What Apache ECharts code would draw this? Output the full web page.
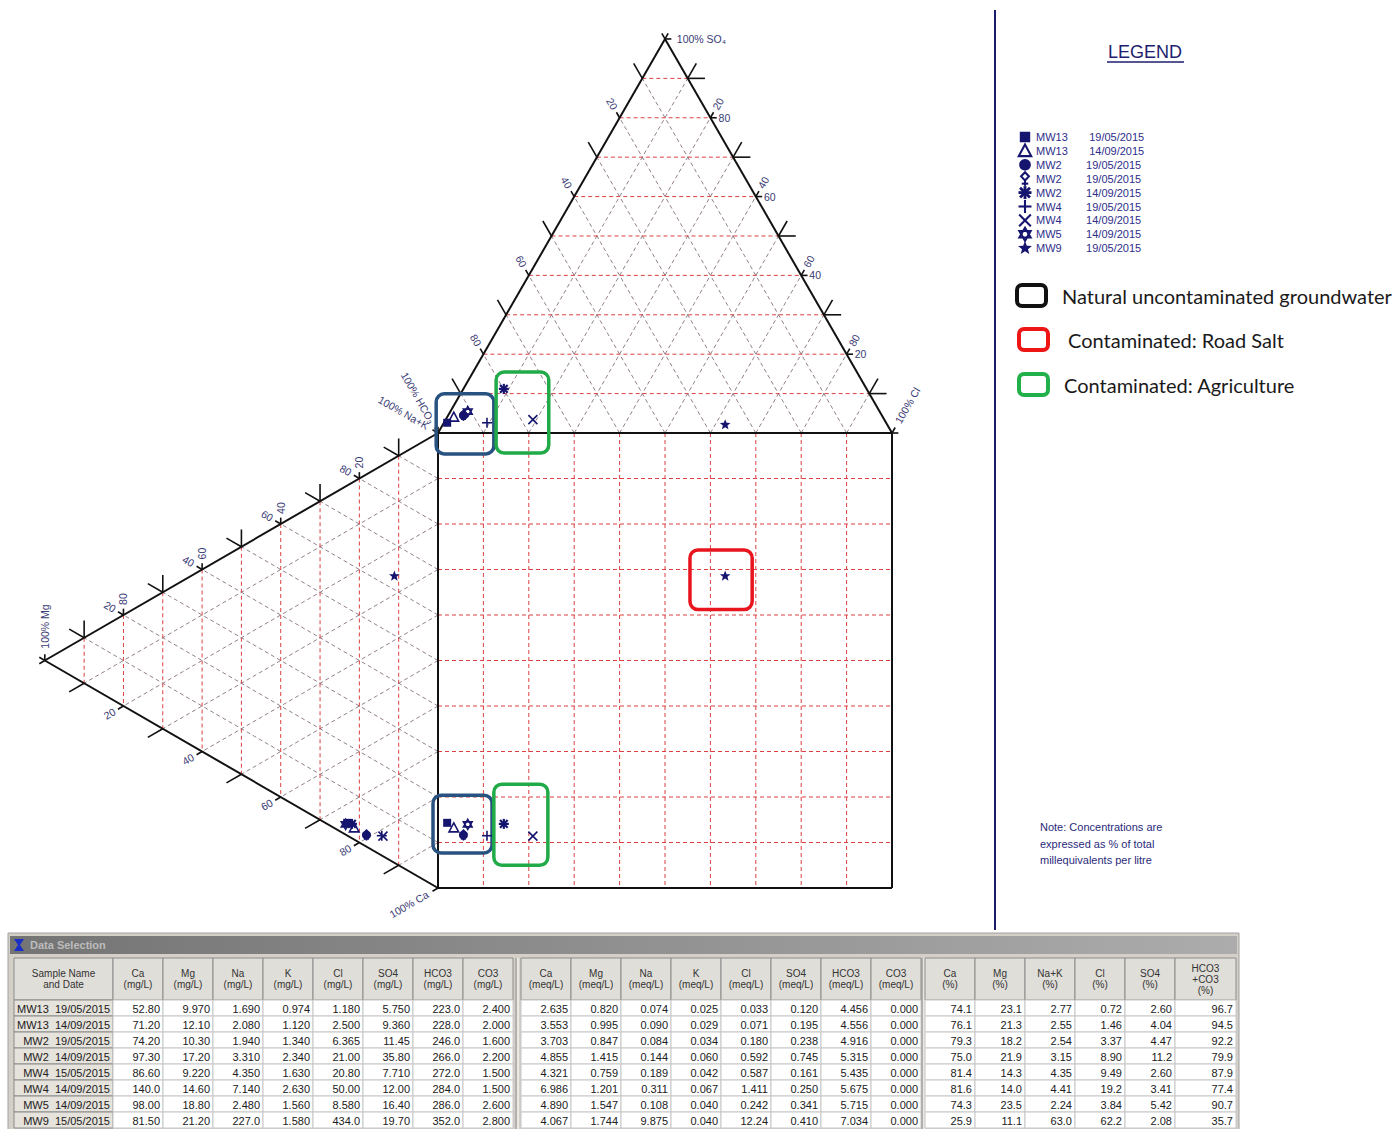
<!DOCTYPE html>
<html>
<head>
<meta charset="utf-8">
<title>Durov diagram – groundwater samples</title>
<script src="https://cdn.jsdelivr.net/npm/echarts@6/dist/echarts.min.js"></script>
<style>
  html, body { margin: 0; padding: 0; background: #ffffff; }
  #chart { width: 1399px; height: 1129px; }
</style>
</head>
<body>
<div id="chart"></div>
<script>
// ---------------- sample data (percent of total meq/L) ----------------
const sampleNames = ['MW13\u00a0\u00a019/05/2015', 'MW13\u00a0\u00a014/09/2015', 'MW2\u00a0\u00a019/05/2015', 'MW2\u00a0\u00a014/09/2015',
                     'MW4\u00a0\u00a015/05/2015', 'MW4\u00a0\u00a014/09/2015', 'MW5\u00a0\u00a014/09/2015', 'MW9\u00a0\u00a015/05/2015'];
const caPct   = [74.1, 76.1, 79.3, 75.0, 81.4, 81.6, 74.3, 25.9];
const mgPct   = [23.1, 21.3, 18.2, 21.9, 14.3, 14.0, 23.5, 11.1];
const naKPct  = [2.77, 2.55, 2.54, 3.15, 4.35, 4.41, 2.24, 63.0];
const clPct   = [0.72, 1.46, 3.37, 8.90, 9.49, 19.2, 3.84, 62.2];
const so4Pct  = [2.60, 4.04, 4.47, 11.2, 2.60, 3.41, 5.42, 2.08];
const hco3Pct = [96.7, 94.5, 92.2, 79.9, 87.9, 77.4, 90.7, 35.7];

// concentrations (mg/L)
const caMgL   = ['52.80', '71.20', '74.20', '97.30', '86.60', '140.0', '98.00', '81.50'];
const mgMgL   = ['9.970', '12.10', '10.30', '17.20', '9.220', '14.60', '18.80', '21.20'];
const naMgL   = ['1.690', '2.080', '1.940', '3.310', '4.350', '7.140', '2.480', '227.0'];
const kMgL    = ['0.974', '1.120', '1.340', '2.340', '1.630', '2.630', '1.560', '1.580'];
const clMgL   = ['1.180', '2.500', '6.365', '21.00', '20.80', '50.00', '8.580', '434.0'];
const so4MgL  = ['5.750', '9.360', '11.45', '35.80', '7.710', '12.00', '16.40', '19.70'];
const hco3MgL = ['223.0', '228.0', '246.0', '266.0', '272.0', '284.0', '286.0', '352.0'];
const co3MgL  = ['2.400', '2.000', '1.600', '2.200', '1.500', '1.500', '2.600', '2.800'];

// concentrations (meq/L)
const caMeq   = ['2.635', '3.553', '3.703', '4.855', '4.321', '6.986', '4.890', '4.067'];
const mgMeq   = ['0.820', '0.995', '0.847', '1.415', '0.759', '1.201', '1.547', '1.744'];
const naMeq   = ['0.074', '0.090', '0.084', '0.144', '0.189', '0.311', '0.108', '9.875'];
const kMeq    = ['0.025', '0.029', '0.034', '0.060', '0.042', '0.067', '0.040', '0.040'];
const clMeq   = ['0.033', '0.071', '0.180', '0.592', '0.587', '1.411', '0.242', '12.24'];
const so4Meq  = ['0.120', '0.195', '0.238', '0.745', '0.161', '0.250', '0.341', '0.410'];
const hco3Meq = ['4.456', '4.556', '4.916', '5.315', '5.435', '5.675', '5.715', '7.034'];
const co3Meq  = ['0.000', '0.000', '0.000', '0.000', '0.000', '0.000', '0.000', '0.000'];

// legend entries: well, date, table row that supplies the composition
const legendWells = ['MW13', 'MW13', 'MW2', 'MW2', 'MW2', 'MW4', 'MW4', 'MW5', 'MW9'];
const legendDates = ['19/05/2015', '14/09/2015', '19/05/2015', '19/05/2015', '14/09/2015',
                     '19/05/2015', '14/09/2015', '14/09/2015', '19/05/2015'];
const legendRow   = [0, 1, 2, 2, 3, 4, 5, 6, 7];

// water-type groups and the outlined areas (diagram percent units)
const groupNames = ['Natural uncontaminated groundwater', 'Contaminated: Road Salt', 'Contaminated: Agriculture'];
const groupAreas = [
  { group: 0, x: [-0.4, 12.3], y: [-4.6, 8.6] },
  { group: 0, x: [-1.1, 11.9], y: [-92.3, -79.6] },
  { group: 2, x: [12.8, 24.4], y: [-4.4, 13.4] },
  { group: 2, x: [12.3, 24.2], y: [-95.0, -77.2] },
  { group: 1, x: [55.5, 69.2], y: [-38.8, -25.7] }
];
const gridSteps = [10, 20, 30, 40, 50, 60, 70, 80, 90];
const labelSteps = [20, 40, 60, 80];

// ---------------- styles ----------------
const NAVY = '#15156f';
const LABEL = '#3a3a74';
const RED_GRID = '#dc4040';
const GREY_GRID = '#93808a';
const areaColours = ['#28527f', '#e8141e', '#21aa48'];
const legendColours = ['#111111', '#ee1515', '#22b04b'];

// ---------------- Durov geometry ----------------
const H = Math.sqrt(3) / 2;
// anion triangle: HCO3 bottom-left, Cl bottom-right, SO4 top
const anionXY = (cl, so4) => [cl + so4 / 2, so4 * H];
// cation triangle: Na+K top, Ca bottom, Mg left
const cationXY = (ca, mg) => [-mg * H, -(ca + mg / 2)];

function anionOf(i) {
  const t = clPct[i] + so4Pct[i] + hco3Pct[i];
  return anionXY(clPct[i] / t * 100, so4Pct[i] / t * 100);
}
function cationOf(i) {
  const t = caPct[i] + mgPct[i] + naKPct[i];
  return cationXY(caPct[i] / t * 100, mgPct[i] / t * 100);
}

// frame
const frameSegs = [];
function poly(pts) {
  for (let i = 0; i < pts.length; i++) {
    const a = pts[i], b = pts[(i + 1) % pts.length];
    frameSegs.push([a[0], a[1], b[0], b[1]]);
  }
}
poly([anionXY(0, 0), anionXY(100, 0), anionXY(0, 100)]);
poly([[0, 0], [100, 0], [100, -100], [0, -100]]);
poly([cationXY(0, 0), cationXY(0, 100), cationXY(100, 0)]);

// grid lines
const redSegs = [], greySegs = [];
gridSteps.forEach(v => {
  // anion triangle
  let a = anionXY(0, v), b = anionXY(100 - v, v);
  redSegs.push([a[0], a[1], b[0], b[1]]);
  a = anionXY(v, 0); b = anionXY(v, 100 - v);
  greySegs.push([a[0], a[1], b[0], b[1]]);
  a = anionXY(100 - v, 0); b = anionXY(0, 100 - v);
  greySegs.push([a[0], a[1], b[0], b[1]]);
  // cation triangle
  a = cationXY(0, v); b = cationXY(100 - v, v);
  redSegs.push([a[0], a[1], b[0], b[1]]);
  a = cationXY(100 - v, 0); b = cationXY(0, 100 - v);
  greySegs.push([a[0], a[1], b[0], b[1]]);
  a = cationXY(v, 0); b = cationXY(v, 100 - v);
  greySegs.push([a[0], a[1], b[0], b[1]]);
  // central square
  redSegs.push([v, 0, v, -100]);
  redSegs.push([0, -v, 100, -v]);
});

// ticks on the outer edges
const tickSegs = [];
const LONG = 3.8, SHORT = 1.4;
function addTick(p, d, len) { tickSegs.push([p[0], p[1], p[0] + d[0] * len, p[1] + d[1] * len]); }
for (let v = 0; v <= 100; v += 10) {
  const len = (v % 20 === 10) ? LONG : SHORT;
  addTick(anionXY(0, 100 - v), [-0.5, H], len);
  const pr = anionXY(100 - v, v);
  addTick(pr, [1, 0], len);
  addTick(pr, [0.5, H], len);
  const pu = cationXY(0, v);
  addTick(pu, [0, 1], len);
  addTick(pu, [-H, 0.5], len);
  addTick(cationXY(v, 100 - v), [-H, -0.5], len);
}

// scale labels
const diagramLabels = [];
const OFF = 3.5;
labelSteps.forEach(v => {
  let p = anionXY(0, 100 - v);
  diagramLabels.push({ x: p[0] - 0.5 * OFF, y: p[1] + H * OFF, text: String(v), rot: -60, align: 'center' });
  p = anionXY(100 - v, v);
  diagramLabels.push({ x: p[0] + 0.5 * OFF, y: p[1] + H * OFF, text: String(100 - v), rot: 60, align: 'center' });
  diagramLabels.push({ x: p[0] + 1.8, y: p[1], text: String(v), rot: 0, align: 'left' });
  p = cationXY(0, v);
  diagramLabels.push({ x: p[0], y: p[1] + OFF, text: String(v), rot: 90, align: 'center' });
  diagramLabels.push({ x: p[0] - H * OFF, y: p[1] + 0.5 * OFF, text: String(100 - v), rot: -30, align: 'center' });
  p = cationXY(v, 100 - v);
  diagramLabels.push({ x: p[0] - H * OFF, y: p[1] - 0.5 * OFF, text: String(v), rot: 30, align: 'center' });
});
[
  { p: anionXY(0, 100), d: [1, 0], text: '100% SO\u2084', rot: 0, align: 'left' },
  { p: anionXY(100, 0), d: [0.5, H], text: '100% Cl', rot: 60, align: 'left' },
  { p: anionXY(0, 0), d: [-0.5, H], text: '100% HCO\u2083', rot: -60, align: 'right' },
  { p: cationXY(0, 0), d: [-H, 0.5], text: '100% Na+K', rot: -30, align: 'right' },
  { p: cationXY(0, 100), d: [0, 1], text: '100% Mg', rot: 90, align: 'left' },
  { p: cationXY(100, 0), d: [-H, -0.5], text: '100% Ca', rot: 30, align: 'right' }
].forEach(v => {
  diagramLabels.push({ x: v.p[0] + v.d[0] * 2.6, y: v.p[1] + v.d[1] * 2.6, text: v.text, rot: v.rot, align: v.align });
});

// sample markers: anion triangle, cation triangle and projected square point
const drawOrder = [3, 0, 1, 2, 4, 5, 6, 7, 8];
const markerPts = [];
drawOrder.forEach(kind => {
  const r = legendRow[kind];
  const a = anionOf(r), c = cationOf(r);
  markerPts.push([a[0], a[1], kind], [c[0], c[1], kind], [a[0], c[1], kind]);
});

// ---------------- marker glyphs ----------------
function markerShape(kind, cx, cy, k) {
  k = k || 1;
  const lw = 1.6 * k;
  const ln = (x1, y1, x2, y2, w) => ({
    type: 'line',
    shape: { x1: cx + x1 * k, y1: cy + y1 * k, x2: cx + x2 * k, y2: cy + y2 * k },
    style: { stroke: NAVY, lineWidth: w || lw }
  });
  const ring = (r, n, a0) => {
    const pts = [];
    for (let i = 0; i < n; i++) {
      const a = a0 + i * 2 * Math.PI / n;
      pts.push([cx + Math.cos(a) * r * k, cy + Math.sin(a) * r * k]);
    }
    return pts;
  };
  switch (kind) {
    case 0:
      return { type: 'rect', shape: { x: cx - 4 * k, y: cy - 4 * k, width: 8 * k, height: 8 * k }, style: { fill: NAVY } };
    case 1:
      return { type: 'polygon', shape: { points: [[cx, cy - 5 * k], [cx + 4.8 * k, cy + 4 * k], [cx - 4.8 * k, cy + 4 * k]] },
               style: { fill: 'none', stroke: NAVY, lineWidth: lw } };
    case 2:
      return { type: 'circle', shape: { cx: cx, cy: cy, r: 4.5 * k }, style: { fill: NAVY } };
    case 3:
      return { type: 'group', children: [
        { type: 'polygon', shape: { points: [[cx, cy - 5 * k], [cx + 3 * k, cy - 1.8 * k], [cx, cy + 1.4 * k], [cx - 3 * k, cy - 1.8 * k]] },
          style: { fill: 'none', stroke: NAVY, lineWidth: lw } },
        ln(0, 1.4, 0, 5.5), ln(-2.5, 3.8, 2.5, 3.8)
      ] };
    case 4:
      return { type: 'group', children: [
        ln(-5, 0, 5, 0, 2.2 * k), ln(0, -5, 0, 5, 2.2 * k), ln(-3.8, -3.8, 3.8, 3.8, 2.2 * k), ln(-3.8, 3.8, 3.8, -3.8, 2.2 * k)
      ] };
    case 5:
      return { type: 'group', children: [ln(-5, 0, 5, 0), ln(0, -5, 0, 5)] };
    case 6:
      return { type: 'group', children: [ln(-4.5, -4.5, 4.5, 4.5), ln(-4.5, 4.5, 4.5, -4.5)] };
    case 7:
      return { type: 'group', children: [
        { type: 'polygon', shape: { points: ring(5, 3, -Math.PI / 2) }, style: { fill: 'none', stroke: NAVY, lineWidth: 1.6 * k } },
        { type: 'polygon', shape: { points: ring(5, 3, Math.PI / 2) }, style: { fill: 'none', stroke: NAVY, lineWidth: 1.6 * k } }
      ] };
    default: {
      const pts = [];
      for (let i = 0; i < 10; i++) {
        const a = -Math.PI / 2 + i * Math.PI / 5, r = (i % 2 ? 2.4 : 5.6) * k;
        pts.push([cx + Math.cos(a) * r, cy + Math.sin(a) * r]);
      }
      return { type: 'polygon', shape: { points: pts }, style: { fill: NAVY } };
    }
  }
}

// ---------------- series builders ----------------
function segmentSeries(segs, style, z) {
  return {
    type: 'custom', coordinateSystem: 'cartesian2d', silent: true, z: z, animation: false,
    dimensions: ['x1', 'y1', 'x2', 'y2'], encode: { x: [0, 2], y: [1, 3] },
    data: segs,
    renderItem: (params, api) => {
      const a = api.coord([api.value(0), api.value(1)]);
      const b = api.coord([api.value(2), api.value(3)]);
      return { type: 'line', shape: { x1: a[0], y1: a[1], x2: b[0], y2: b[1] }, style: Object.assign({ fill: null }, style) };
    }
  };
}

// ---------------- right panel + table (page layout) ----------------
const graphics = [];
const FONT = 'Arial, "Liberation Sans", sans-serif';

graphics.push({ type: 'line', shape: { x1: 995, y1: 10, x2: 995, y2: 930 }, style: { stroke: '#1c1c6c', lineWidth: 2 } });
graphics.push({ type: 'text', x: 1145, y: 52, style: { text: 'LEGEND', fill: '#1e1e6e', fontSize: 18, fontFamily: FONT, align: 'center', verticalAlign: 'middle' } });
graphics.push({ type: 'line', shape: { x1: 1107, y1: 62, x2: 1184, y2: 62 }, style: { stroke: '#1e1e6e', lineWidth: 1.3 } });

legendWells.forEach((w, i) => {
  const y = 137 + i * 13.9;
  graphics.push(markerShape(i, 1025, y, 1.3));
  graphics.push({ type: 'text', x: 1036, y: y, style: {
    text: w + '\u00a0'.repeat(w.length > 3 ? 7 : 8) + legendDates[i],
    fill: '#2e2e8a', fontSize: 11, fontFamily: FONT, align: 'left', verticalAlign: 'middle' } });
});

groupNames.forEach((g, i) => {
  const bx = [1017, 1019, 1019][i], by = [285, 329, 374][i];
  const tx = [1062, 1068, 1064][i];
  graphics.push({ type: 'rect', shape: { x: bx, y: by, width: 29, height: 21, r: 5 },
    style: { fill: 'none', stroke: legendColours[i], lineWidth: 4 } });
  graphics.push({ type: 'text', x: tx, y: by + 10.5, style: { text: g, fill: '#1a1a1a', fontSize: 20, fontFamily: 'Lato, "Noto Sans", sans-serif', align: 'left', verticalAlign: 'middle' } });
});

['Note: Concentrations are', 'expressed as % of total', 'millequivalents per litre'].forEach((t, i) => {
  graphics.push({ type: 'text', x: 1040, y: 827 + i * 16.5, style: { text: t, fill: '#2a2a7a', fontSize: 11, fontFamily: FONT, align: 'left', verticalAlign: 'middle' } });
});

// data selection window
const fmtPct = v => (v >= 10 ? v.toFixed(1) : v.toFixed(2));
const columns = [
  { h: 'Sample Name\nand Date', w: 99, v: sampleNames, name: true },
  { h: 'Ca\n(mg/L)', w: 50, v: caMgL }, { h: 'Mg\n(mg/L)', w: 50, v: mgMgL }, { h: 'Na\n(mg/L)', w: 50, v: naMgL },
  { h: 'K\n(mg/L)', w: 50, v: kMgL }, { h: 'Cl\n(mg/L)', w: 50, v: clMgL }, { h: 'SO4\n(mg/L)', w: 50, v: so4MgL },
  { h: 'HCO3\n(mg/L)', w: 50, v: hco3MgL }, { h: 'CO3\n(mg/L)', w: 50, v: co3MgL },
  { gap: 8 },
  { h: 'Ca\n(meq/L)', w: 50, v: caMeq }, { h: 'Mg\n(meq/L)', w: 50, v: mgMeq }, { h: 'Na\n(meq/L)', w: 50, v: naMeq },
  { h: 'K\n(meq/L)', w: 50, v: kMeq }, { h: 'Cl\n(meq/L)', w: 50, v: clMeq }, { h: 'SO4\n(meq/L)', w: 50, v: so4Meq },
  { h: 'HCO3\n(meq/L)', w: 50, v: hco3Meq }, { h: 'CO3\n(meq/L)', w: 50, v: co3Meq },
  { gap: 4 },
  { h: 'Ca\n(%)', w: 50, v: caPct.map(fmtPct) }, { h: 'Mg\n(%)', w: 50, v: mgPct.map(fmtPct) },
  { h: 'Na+K\n(%)', w: 50, v: naKPct.map(fmtPct) }, { h: 'Cl\n(%)', w: 50, v: clPct.map(fmtPct) },
  { h: 'SO4\n(%)', w: 50, v: so4Pct.map(fmtPct) }, { h: 'HCO3\n+CO3\n(%)', w: 61, v: hco3Pct.map(fmtPct) }
];

graphics.push({ type: 'rect', shape: { x: 8, y: 933, width: 1231, height: 200 }, style: { fill: '#d4d0c8', stroke: '#a0a0a0', lineWidth: 1 } });
graphics.push({ type: 'rect', shape: { x: 10, y: 936, width: 1227, height: 18 },
  style: { fill: new echarts.graphic.LinearGradient(0, 0, 1, 0, [{ offset: 0, color: '#747474' }, { offset: 1, color: '#acacac' }]) } });
graphics.push({ type: 'polygon', shape: { points: [[14, 939], [24, 939], [20, 945], [24, 951], [14, 951], [18, 945]] }, style: { fill: '#1a2fc8' } });
graphics.push({ type: 'text', x: 30, y: 945, style: { text: 'Data Selection', fill: '#bcbcbc', fontSize: 11, fontWeight: 'bold', fontFamily: FONT, verticalAlign: 'middle' } });

const headTop = 958, headH = 42, rowTop = 1000, rowH = 16;
let cx = 14;
columns.forEach(col => {
  if (col.gap) {
    graphics.push({ type: 'line', shape: { x1: cx + col.gap / 2 - 1, y1: headTop, x2: cx + col.gap / 2 - 1, y2: 1129 }, style: { stroke: '#909090', lineWidth: 1 } });
    graphics.push({ type: 'line', shape: { x1: cx + col.gap / 2 + 1, y1: headTop, x2: cx + col.gap / 2 + 1, y2: 1129 }, style: { stroke: '#ffffff', lineWidth: 1 } });
    cx += col.gap;
    return;
  }
  graphics.push({ type: 'rect', shape: { x: cx, y: headTop, width: col.w, height: headH }, style: { fill: '#e0ded8', stroke: '#8c8c8c', lineWidth: 1 } });
  graphics.push({ type: 'text', x: cx + col.w / 2, y: headTop + headH / 2, style: {
    text: col.h, fill: '#333333', fontSize: 10, lineHeight: 11, fontFamily: FONT, align: 'center', verticalAlign: 'middle' } });
  col.v.forEach((val, r) => {
    const y = rowTop + r * rowH;
    graphics.push({ type: 'rect', shape: { x: cx, y: y, width: col.w, height: rowH },
      style: { fill: col.name ? '#e6e3dc' : '#ffffff', stroke: col.name ? '#8a8a8a' : '#c6c6c6', lineWidth: 1 } });
    graphics.push({ type: 'text', x: cx + col.w - 3, y: y + rowH / 2 + 0.5, style: {
      text: val, fill: '#202020', fontSize: 11, fontFamily: FONT, align: 'right', verticalAlign: 'middle' } });
  });
  cx += col.w;
});

// ---------------- chart ----------------
const chart = echarts.init(document.getElementById('chart'), null, { renderer: 'svg', width: 1399, height: 1129 });
chart.setOption({
  animation: false,
  backgroundColor: '#ffffff',
  grid: { left: 29.4, top: 23.5, width: 862.6, height: 864.5, containLabel: false },
  xAxis: { type: 'value', min: -90, max: 100, show: false },
  yAxis: { type: 'value', min: -100, max: 90, show: false },
  series: [
    segmentSeries(greySegs, { stroke: GREY_GRID, lineWidth: 1, lineDash: [4, 3] }, 1),
    segmentSeries(redSegs, { stroke: RED_GRID, lineWidth: 1, lineDash: [4, 3] }, 2),
    segmentSeries(frameSegs, { stroke: '#111111', lineWidth: 2 }, 3),
    segmentSeries(tickSegs, { stroke: '#111111', lineWidth: 1.6 }, 3),
    {
      type: 'custom', coordinateSystem: 'cartesian2d', silent: true, z: 4,
      dimensions: ['x', 'y', 'i'], encode: { x: 0, y: 1 },
      data: diagramLabels.map((l, i) => [l.x, l.y, i]),
      renderItem: (params, api) => {
        const l = diagramLabels[api.value(2)];
        const p = api.coord([api.value(0), api.value(1)]);
        return { type: 'text', x: p[0], y: p[1], rotation: l.rot * Math.PI / 180,
          style: { text: l.text, fill: LABEL, fontSize: 10.5, fontFamily: FONT, align: l.align, verticalAlign: 'middle' } };
      }
    },
    {
      type: 'custom', coordinateSystem: 'cartesian2d', silent: true, z: 5,
      dimensions: ['x0', 'y0', 'x1', 'y1', 'g'], encode: { x: [0, 2], y: [1, 3] },
      data: groupAreas.map(a => [a.x[0], a.y[0], a.x[1], a.y[1], a.group]),
      renderItem: (params, api) => {
        const a = api.coord([api.value(0), api.value(3)]);
        const b = api.coord([api.value(2), api.value(1)]);
        return { type: 'rect', shape: { x: a[0], y: a[1], width: b[0] - a[0], height: b[1] - a[1], r: 8 },
          style: { fill: 'none', stroke: areaColours[api.value(4)], lineWidth: 3.5 } };
      }
    },
    {
      type: 'custom', coordinateSystem: 'cartesian2d', silent: true, z: 6,
      dimensions: ['x', 'y', 'kind'], encode: { x: 0, y: 1 },
      data: markerPts,
      renderItem: (params, api) => {
        const p = api.coord([api.value(0), api.value(1)]);
        return markerShape(api.value(2), p[0], p[1], 1);
      }
    }
  ],
  graphic: { elements: graphics }
});
</script>
</body>
</html>
